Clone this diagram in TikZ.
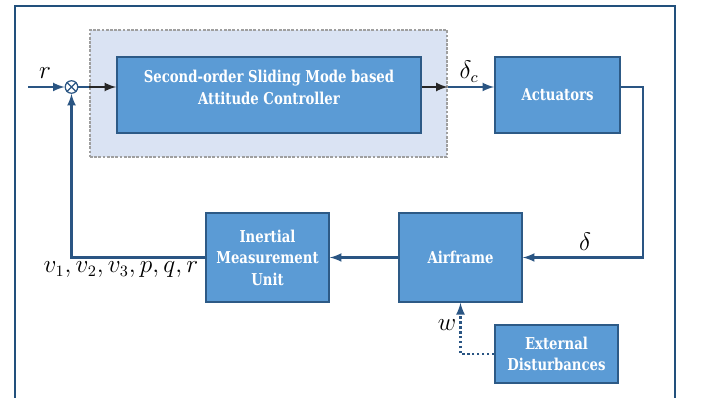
\documentclass[tikz,border=0pt]{standalone}
\usepackage{fontspec}
\newfontfamily\boxfont[FakeStretch=0.81]{DejaVu Serif}
\usepackage{amsmath}
\usetikzlibrary{calc}
\usetikzlibrary{arrows.meta}
\usetikzlibrary{positioning}
\definecolor{boxfill}{HTML}{5B9BD5}
\definecolor{boxline}{HTML}{2D5A86}
\definecolor{wirecol}{HTML}{2A5583}
\definecolor{panelfill}{HTML}{DAE3F3}
\definecolor{framecol}{HTML}{22507C}
\tikzset{>=latex}
\tikzset{blk/.style = {draw=boxline, line width=1pt, fill=boxfill, text=white, align=center, inner sep=0,
  font=\boxfont\bfseries\fontsize{9.3}{12.2}\selectfont}}
\tikzset{panel/.style = {draw=gray!75, fill=panelfill, line width=0.8pt, dash pattern=on 1.6pt off 0.8pt, inner sep=0}}
\tikzset{wire/.style = {draw=wirecol, line width=1.25pt}}
\tikzset{sig/.style = {draw=black!85, line width=1.25pt}}
\tikzset{lbl/.style = {draw=none, inner sep=0, font=\fontsize{13.5}{16}\selectfont}}
\tikzset{sumpt/.style = {circle, draw=wirecol, fill=white, line width=0.7pt, minimum size=0.25cm, inner sep=0}}

\begin{document}
\begin{tikzpicture}[x=0.02cm, y=-0.02cm]
\useasboundingbox (0,0) rectangle (704,398);
% frame round the loop, open at the bottom
\draw [draw=framecol, line width=1.5pt] (15,402) -- (15,6) -- (675,6) -- (675,402);

% blocks
\node [panel, minimum width=7.14cm, minimum height=2.54cm] (pnl) at (268.5,93.5) {};
\node [blk, minimum width=6.08cm, minimum height=1.52cm, text depth=0.3cm] (ctrl) at (269,95) {Second-order Sliding Mode based\\Attitude Controller};
\node [blk, minimum width=2.5cm, minimum height=1.52cm] (act) at (557.5,95) {Actuators};
\node [blk, minimum width=2.46cm, minimum height=1.78cm] (imu) at (267.5,257.5) {Inertial\\Measurement\\Unit};
\node [blk, minimum width=2.46cm, minimum height=1.78cm] (air) at (460.5,257.5) {Airframe};
\node [blk, minimum width=2.46cm, minimum height=1.16cm] (ext) at (556.5,354) {External\\Disturbances};

% summing junction
\node [sumpt] (sum) at (71.5,87) {};
\draw [draw=wirecol, line width=0.7pt] (sum.north west) -- (sum.south east) (sum.north east) -- (sum.south west);

\coordinate (ref) at (28,87);
\coordinate (bend) at (643,87);

% signals
\draw [wire, ->] (ref) to (sum);
\draw [wire] (sum) to (pnl.west |- sum);
\draw [sig, ->] (pnl.west |- sum) to (ctrl.west |- sum);
\draw [sig, ->] (ctrl.east |- sum) to (pnl.east |- sum);
\draw [wire, ->] (pnl.east |- sum) to (act.west |- sum);
\draw [wire, ->] (act.east |- sum) -- (bend) |- (air.east);
\draw [wire, ->] (air) to (imu);
\draw [wire, ->] (imu.west) -| (sum.south);
\draw [wire, ->, line width=1.3pt, dash pattern=on 1.3pt off 1.5pt] (ext.west) -| (air.south);

% labels
\node [lbl] (rlab) at (45,73) {$r$};
\node [lbl] (dclab) at (469,72) {$\delta_c$};
\node [lbl] (dlab) at (585,242) {$\delta$};
\node [lbl] (wlab) at (447,325) {$w$};
\node [lbl] (ylab) at (121,270) {$v_1, v_2, v_3, p, q, r$};
\end{tikzpicture}
\end{document}
